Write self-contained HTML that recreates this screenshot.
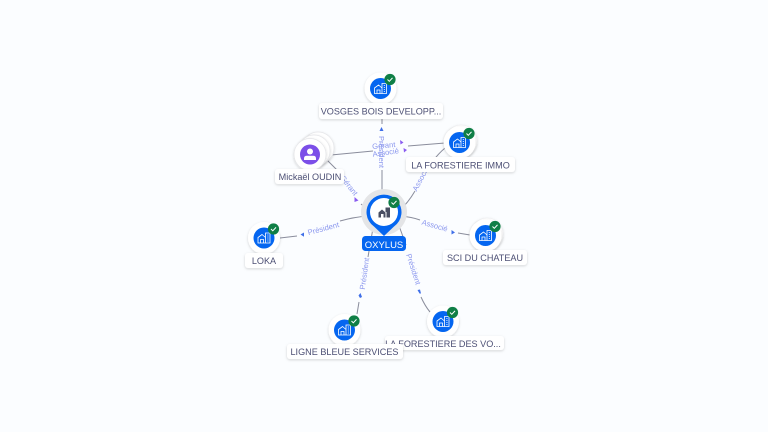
<!DOCTYPE html>
<html><head><meta charset="utf-8"><style>
html,body{margin:0;padding:0;background:#fbfdff}
svg{display:block}
text{font-family:"Liberation Sans",sans-serif}
.l{font-size:9.1px;fill:#4c4f74;text-anchor:middle}
.e{font-size:7.6px;fill:#8b97ee;text-anchor:middle}
.p{fill:none;stroke:#8a8d9c;stroke-width:1}
.r{fill:#fff;filter:url(#s)}
.n{fill:#fff;filter:url(#s)}
.b{fill:#0566f0}
.c{fill:#0f7f46}
.k{fill:none;stroke:#fff;stroke-width:1}
.h{fill:none;stroke:#fff;stroke-width:.8}
</style></head><body>
<svg width="768" height="432" viewBox="0 0 768 432" xmlns="http://www.w3.org/2000/svg">
<defs>
<filter id="s" x="-30%" y="-40%" width="160%" height="190%"><feDropShadow dx="0" dy="1" stdDeviation="1.4" flood-color="#223" flood-opacity=".18"/></filter>
<g id="home"><path class="h" d="M-6 5V-.5L-2-3.500 1.500-.5V5ZM-3.500 5V1.500H-.5V5M1.500-.5V-5H6V5H1.500M3.300-3H4.500M3.300-1H4.500M3.300 1H4.500M3.300 3H4.500"/></g>
<g id="chk"><circle r="5.6" class="c"/><path class="k" d="M-2.500 0 -.7 1.800 2.500-1.600"/></g>
<g id="co"><circle r="16" class="n"/><circle r="10.500" class="b"/><use href="#home"/><use href="#chk" x="9.500" y="-9"/></g>
</defs>
<rect width="768" height="432" fill="#fbfdff"/>

<!-- edges -->
<path class="p" d="M382 119V124M382 170V196"/>
<path class="p" d="M331 155 373 151M408 146 445 143"/>
<path class="p" d="M327 160 339 172M361 204 371 212"/>
<path class="p" d="M445 148 Q438 154 433 161M415 191 Q408 203 399 211"/>
<path class="p" d="M280 238 297 236M340 221 Q354 217 368 216"/>
<path class="p" d="M359 302 357 314M368 257 373 228"/>
<path class="p" d="M400 216 Q412 217 420 220M458 233 470 235"/>
<path class="p" d="M398 223 406 245M421 297 Q425 306 430 312"/>

<!-- arrows -->
<g fill="#3f6fe8">
<path d="M379.500 131 381.500 127 383.500 131Z"/>
<path d="M300.500 234.500 304 232.500 304 236.800Z"/>
<path d="M358.500 295.500 360.500 293 362 297 360 298Z" />
<path d="M451.500 230 455 232.500 451.500 234.500Z"/>
<path d="M417.500 290 420 289.500 421 293.500 419.500 293.500Z"/>
</g>
<g fill="#8a5cf0">
<path d="M400 140 403.500 142.500 400.500 144.500Z"/>
<path d="M403.500 148 407 150 404 152.500Z"/>
<path d="M354.500 197 358.500 200.500 354.500 202Z"/>
</g>

<!-- edge labels -->
<text class="e" transform="translate(379 152) rotate(90)">Président</text>
<text class="e" transform="translate(384 148) rotate(-5)">Gérant</text>
<text class="e" transform="translate(386 155) rotate(-8)">Associé</text>
<text class="e" transform="translate(347 187) rotate(52)">Gérant</text>
<text class="e" transform="translate(423 180) rotate(-62)">Associé</text>
<text class="e" transform="translate(324 231) rotate(-15)">Président</text>
<text class="e" transform="translate(367 274) rotate(-82)">Président</text>
<text class="e" transform="translate(434 228) rotate(16)">Associé</text>
<text class="e" transform="translate(411 270) rotate(72)">Président</text>

<!-- company and person nodes -->
<use href="#co" x="380.500" y="88.500"/>
<circle cx="461" cy="141" r="16" class="n" stroke="#ebecee" stroke-width=".6"/>
<use href="#co" x="459.500" y="142.500"/>
<circle cx="487" cy="234" r="16" class="n" stroke="#ebecee" stroke-width=".6"/>
<use href="#co" x="485.500" y="235.500"/>
<use href="#co" x="264" y="238"/>
<use href="#co" x="443" y="321.500"/>
<use href="#co" x="344.500" y="330"/>

<circle cx="318" cy="148" r="16" class="n" stroke="#e4e5e8" stroke-width=".7"/>
<circle cx="314" cy="151" r="16" class="n" stroke="#e4e5e8" stroke-width=".7"/>
<circle cx="310" cy="154.500" r="16" class="n" stroke="#e4e5e8" stroke-width=".7"/>
<circle cx="310" cy="154.500" r="10" fill="#7c4fe8"/>
<circle cx="310" cy="151.500" r="3" fill="#fff"/>
<path d="M304 160V158.500Q304 155.800 307 155.800H313Q316 155.800 316 158.500V160Z" fill="#fff"/>

<!-- labels -->
<rect class="r" x="319" y="103" width="124" height="16" rx="3"/>
<text class="l" x="381" y="114.500">VOSGES BOIS DEVELOPP...</text>
<rect class="r" x="406" y="157" width="109" height="15" rx="3"/>
<text class="l" x="460.500" y="168.500">LA FORESTIERE IMMO</text>
<rect class="r" x="275" y="169" width="69" height="15" rx="3"/>
<text class="l" x="310" y="180">Mickaël OUDIN</text>
<rect class="r" x="245" y="253" width="38" height="15" rx="3"/>
<text class="l" x="264" y="264">LOKA</text>
<rect class="r" x="443" y="250" width="84" height="15" rx="3"/>
<text class="l" x="485" y="261">SCI DU CHATEAU</text>
<rect class="r" x="385" y="336" width="119" height="14" rx="3"/>
<text class="l" x="443" y="347">LA FORESTIERE DES VO...</text>
<rect class="r" x="287" y="344" width="116" height="15" rx="3"/>
<text class="l" x="344.500" y="355">LIGNE BLEUE SERVICES</text>

<!-- central node -->
<circle cx="384" cy="212" r="23" fill="#e4e5e7"/>
<path d="M384 236 374 226.500A17.500 17.500 0 1 1 394 226.500Z" fill="#0566f0"/>
<circle cx="384" cy="212" r="14" fill="#fff"/>
<path d="M378.500 217.500V212.500L382 209.500 385.500 212.500V217.500H383.500V214H381V217.500ZM385.500 212V207.500H390V217.500H386.500V212Z" fill="#4a4f62"/>
<use href="#chk" x="394" y="202.500"/>
<rect x="362" y="236" width="44" height="15" rx="3.500" fill="#0566f0"/>
<text x="384" y="248" text-anchor="middle" font-size="9.500" fill="#fff">OXYLUS</text>
</svg>
</body></html>
